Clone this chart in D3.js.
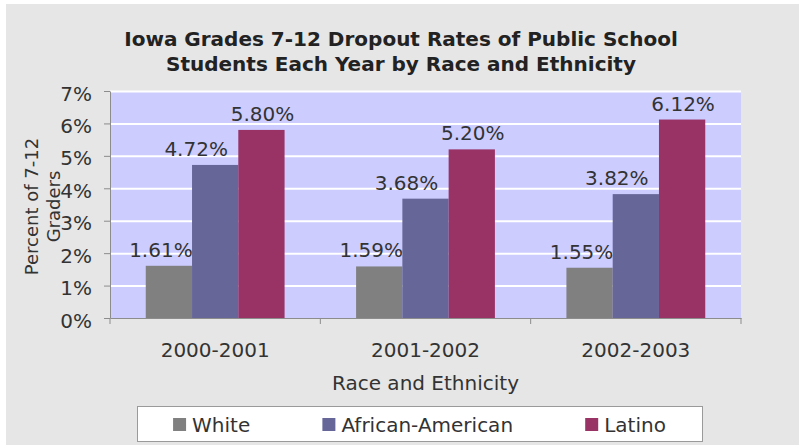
<!DOCTYPE html>
<html>
<head>
<meta charset="utf-8">
<script src="https://cdn.jsdelivr.net/npm/d3@7"></script>
<style>
  html, body { margin: 0; padding: 0; background: #fff; }
  svg { display: block; font-family: "DejaVu Sans", Verdana, sans-serif; }
</style>
</head>
<body>
<div class="bar-chart-container"></div>
<script>
// 資料 (從圖上讀出來的數值, 單位: %)
const years = ['2000-2001', '2001-2002', '2002-2003'];
const races = ['White', 'African-American', 'Latino'];
const whiteRates = [1.61, 1.59, 1.55];
const africanAmericanRates = [4.72, 3.68, 3.82];
const latinoRates = [5.80, 5.20, 6.12];
const yTickValues = [0, 1, 2, 3, 4, 5, 6, 7];
const titleLines = ['Iowa Grades 7-12 Dropout Rates of Public School', 'Students Each Year by Race and Ethnicity'];
const yTitleLines = ['Percent of 7-12', 'Graders'];
const xTitle = 'Race and Ethnicity';

// 每個族群的顏色 & 標籤微調 (Excel 的標籤不是完全置中)
const raceColor = { 'White': '#808080', 'African-American': '#666699', 'Latino': '#993366' };
const labelShift = { 'White': -8, 'African-American': -19, 'Latino': 1 };

// 整理成畫圖用的格式
function prepareData() {
    const valuesByRace = [whiteRates, africanAmericanRates, latinoRates];
    return years.map((year, i) => ({
        year: year,
        values: races.map((race, j) => ({ race: race, value: valuesByRace[j][i] }))
    }));
}

function setupCanvas(data) {
    const svg_width = 799;
    const svg_height = 445;
    const plot = { left: 110, right: 741, top: 91, bottom: 318 };

    const svg = d3.select('.bar-chart-container')
        .append('svg')
        .attr('width', svg_width).attr('height', svg_height);

    // 灰色底
    svg.append('rect')
        .attr('x', 6).attr('y', 4)
        .attr('width', svg_width - 6).attr('height', svg_height - 4)
        .style('fill', '#e6e6e6');

    // scales
    const x0 = d3.scaleBand()
        .domain(years)
        .range([plot.left, plot.right])
        .paddingInner(0.34)
        .paddingOuter(0.17);
    const x1 = d3.scaleBand()
        .domain(races)
        .range([0, x0.bandwidth()]);
    const yScale = d3.scaleLinear()
        .domain([0, d3.max(yTickValues)])
        .range([plot.bottom, plot.top]);

    // 繪圖區底色
    svg.append('rect')
        .attr('x', plot.left).attr('y', plot.top)
        .attr('width', plot.right - plot.left).attr('height', plot.bottom - plot.top)
        .style('fill', '#ccccff');

    // 白色格線
    const grid = d3.axisLeft(yScale)
        .tickValues(yTickValues.slice(1))
        .tickSize(-(plot.right - plot.left))
        .tickFormat('');
    svg.append('g')
        .attr('class', 'grid')
        .attr('transform', `translate(${plot.left},0)`)
        .call(grid)
        .call(g => g.select('.domain').remove())
        .call(g => g.selectAll('line').style('stroke', '#ffffff').style('stroke-width', 2));

    // bars
    const groups = svg.append('g').attr('class', 'bars')
        .selectAll('.year-group')
        .data(data).enter()
        .append('g')
        .attr('class', 'year-group')
        .attr('transform', d => `translate(${x0(d.year)},0)`);

    groups.selectAll('rect')
        .data(d => d.values).enter()
        .append('rect')
        .attr('x', d => x1(d.race))
        .attr('y', d => yScale(d.value))
        .attr('width', x1.bandwidth())
        .attr('height', d => yScale(0) - yScale(d.value))
        .style('fill', d => raceColor[d.race]);

    // 數值標籤
    groups.selectAll('.bar-label')
        .data(d => d.values).enter()
        .append('text')
        .attr('class', 'bar-label')
        .attr('x', d => x1(d.race) + x1.bandwidth() / 2 + labelShift[d.race])
        .attr('y', d => yScale(d.value) - 9)
        .attr('text-anchor', 'middle')
        .style('font-size', '20px')
        .style('fill', '#333')
        .text(d => d.value.toFixed(2) + '%');

    // Y axis
    const yAxis = d3.axisLeft(yScale)
        .tickValues(yTickValues)
        .tickFormat(d => d + '%')
        .tickSizeInner(6)
        .tickSizeOuter(0)
        .tickPadding(12);
    svg.append('g')
        .attr('class', 'y axis')
        .attr('transform', `translate(${plot.left},0)`)
        .call(yAxis)
        .call(g => g.selectAll('line, .domain').style('stroke', '#8c8c8c'))
        .call(g => g.selectAll('text')
            .attr('dy', '0.45em')
            .style('font-size', '20px')
            .style('font-family', '"DejaVu Sans", Verdana, sans-serif')
            .style('fill', '#333'));

    // X axis (標籤)
    const xAxis = d3.axisBottom(x0).tickSize(0).tickSizeOuter(0).tickPadding(25);
    svg.append('g')
        .attr('class', 'x axis')
        .attr('transform', `translate(0,${plot.bottom})`)
        .call(xAxis)
        .call(g => g.select('.domain').style('stroke', '#8c8c8c'))
        .call(g => g.selectAll('text')
            .style('font-size', '20px')
            .style('font-family', '"DejaVu Sans", Verdana, sans-serif')
            .style('fill', '#333'));

    // X axis 類別分隔刻度
    const gap = x0.step() * x0.paddingInner() / 2;
    const boundaries = years.map(d => x0(d) - gap).concat([x0(years[years.length - 1]) + x0.bandwidth() + gap]);
    svg.append('g').attr('class', 'x-ticks')
        .selectAll('line')
        .data(boundaries).enter()
        .append('line')
        .attr('x1', d => d).attr('x2', d => d)
        .attr('y1', plot.bottom).attr('y2', plot.bottom + 6)
        .style('stroke', '#8c8c8c');

    // 標題
    const title = svg.append('text')
        .attr('class', 'chart-title')
        .attr('text-anchor', 'middle')
        .style('font-size', '20px').style('font-weight', 'bold').style('fill', '#222');
    title.selectAll('tspan')
        .data(titleLines).enter()
        .append('tspan')
        .attr('x', 401)
        .attr('y', (d, i) => 46 + i * 25)
        .text(d => d);

    // Y 軸標題 (旋轉)
    const yMid = (plot.top + plot.bottom) / 2 + 2;
    svg.selectAll('.y-title')
        .data(yTitleLines).enter()
        .append('text')
        .attr('class', 'y-title')
        .attr('transform', (d, i) => `translate(${38 + i * 22},${yMid}) rotate(-90)`)
        .attr('text-anchor', 'middle')
        .style('font-size', '18px')
        .style('fill', '#333')
        .text(d => d);

    // X 軸標題
    svg.append('text')
        .attr('class', 'x-title')
        .attr('x', (plot.left + plot.right) / 2)
        .attr('y', 390)
        .attr('text-anchor', 'middle')
        .style('font-size', '20px')
        .style('fill', '#333')
        .text(xTitle);

    // Legend
    const legendBox = { x: 137, y: 406, w: 565, h: 35 };
    const legend = svg.append('g').attr('class', 'legend');
    legend.append('rect')
        .attr('x', legendBox.x + 0.5).attr('y', legendBox.y + 0.5)
        .attr('width', legendBox.w).attr('height', legendBox.h)
        .style('fill', '#ffffff')
        .style('stroke', '#9a9a9a');

    const items = legend.selectAll('.legend-item')
        .data(races).enter()
        .append('g')
        .attr('class', 'legend-item');
    items.append('rect')
        .attr('width', 13).attr('height', 13)
        .attr('y', legendBox.y + 12)
        .style('fill', d => raceColor[d]);
    items.append('text')
        .attr('x', 19)
        .attr('y', legendBox.y + 26)
        .style('font-size', '20px')
        .style('fill', '#333')
        .text(d => d);

    // 平均分配 legend 項目 (兩側留一半的間距)
    const widths = items.nodes().map(n => n.getBBox().width);
    const space = (legendBox.w - d3.sum(widths)) / races.length;
    let cursor = legendBox.x + space / 2;
    items.each(function (d, i) {
        d3.select(this).attr('transform', `translate(${cursor},0)`);
        cursor += widths[i] + space;
    });
}

setupCanvas(prepareData());
</script>
</body>
</html>
